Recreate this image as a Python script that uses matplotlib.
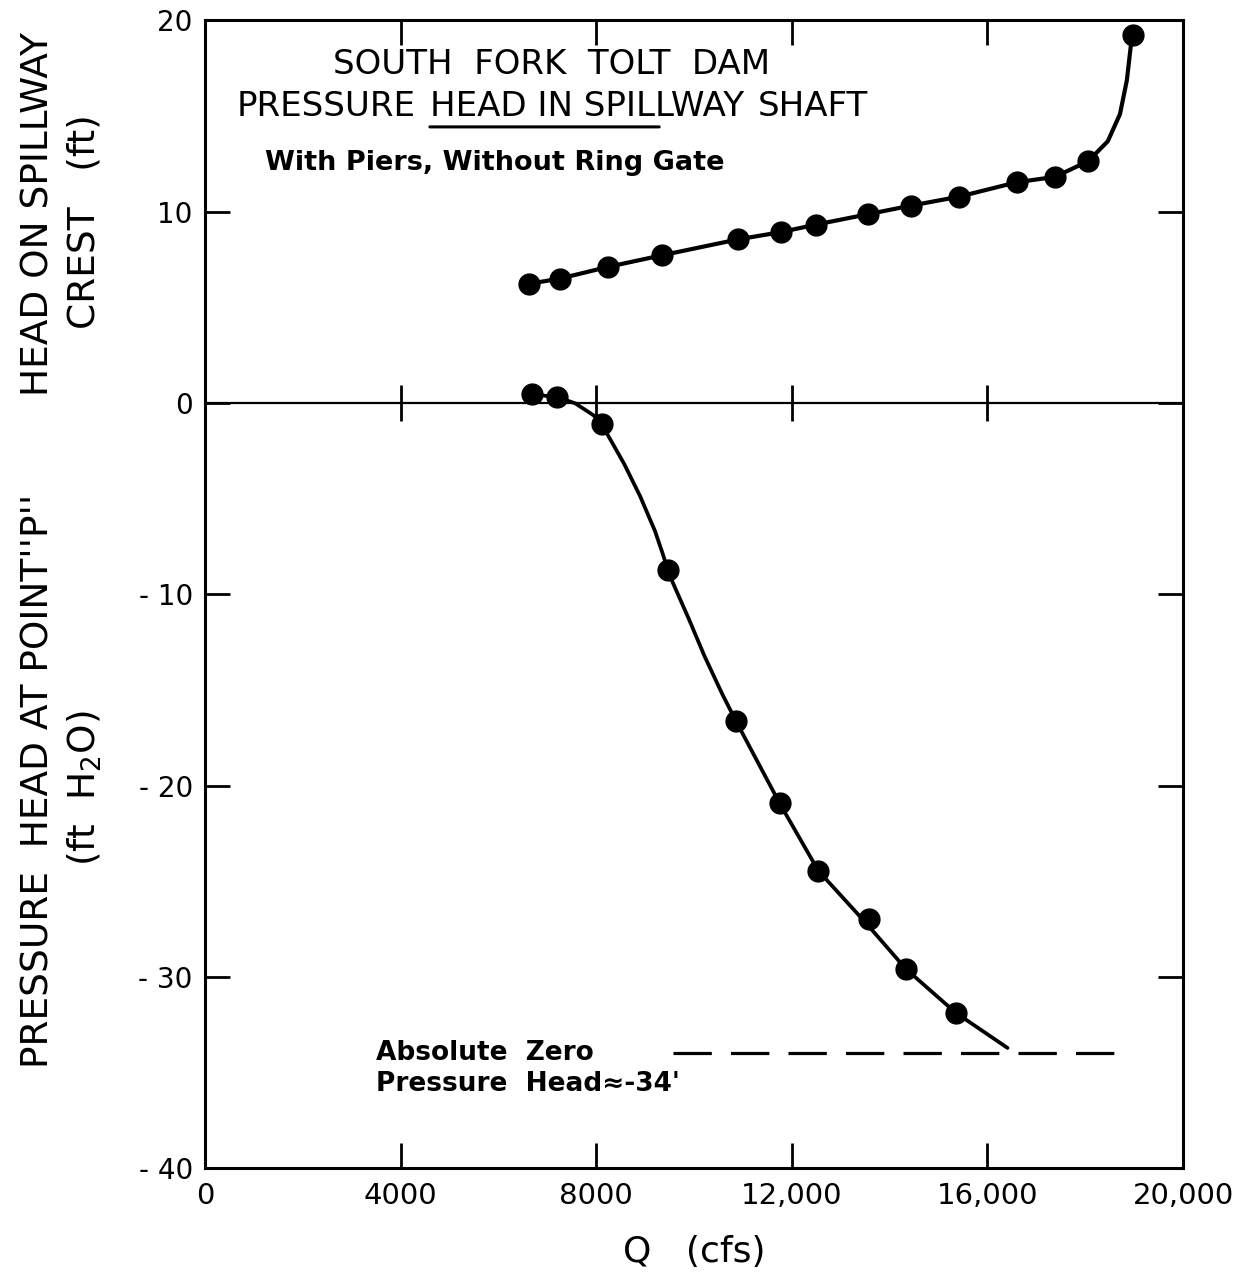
import matplotlib
matplotlib.use('Agg')
import matplotlib.pyplot as plt

# flow rates (cfs) and head on spillway crest (ft)
q_head = [6620, 7250, 8230, 9340, 10890, 11770, 12500, 13560, 14440, 15410, 16600, 17380, 18060, 18980]
head = [6.23, 6.50, 7.11, 7.72, 8.55, 8.93, 9.33, 9.87, 10.32, 10.78, 11.54, 11.82, 12.64, 19.25]

# hand drawn curve through the head points
head_curve_q = [6620, 7250, 8230, 9340, 10890, 11770, 12500, 13560, 14440, 15410, 16600, 17380,
                18060, 18460, 18710, 18850, 18930, 18980]
head_curve = [6.23, 6.50, 7.11, 7.72, 8.55, 8.93, 9.33, 9.87, 10.32, 10.78, 11.54, 11.82,
              12.64, 13.68, 15.10, 16.86, 18.63, 19.25]

# pressure head at point P (ft H2O)
q_p = [6690, 7200, 8110, 9460, 10850, 11750, 12540, 13570, 14330, 15350]
p_head = [0.45, 0.31, -1.08, -8.73, -16.6, -20.93, -24.45, -26.97, -29.58, -31.87]

# hand drawn curve through the pressure points
p_curve_q = [6690, 7200, 7570, 7940, 8110, 8240, 8570, 8900, 9200, 9360, 9460, 9560, 9890,
             10210, 10580, 10850, 11750, 12540, 13500, 14330, 15350, 16410]
p_curve = [0.45, 0.31, -0.02, -0.64, -1.08, -1.70, -3.19, -4.9, -6.7, -7.9, -8.73, -9.37,
           -11.28, -13.22, -15.24, -16.6, -20.93, -24.45, -27.14, -29.58, -31.87, -33.71]

abs_zero_q = [9570, 18700]
abs_zero = -34

x_ticks = [0, 4000, 8000, 12000, 16000, 20000]
x_labels = ['0', '4000', '8000', '12,000', '16,000', '20,000']
y_ticks = [-40, -30, -20, -10, 0, 10, 20]
y_labels = ['- 40', '- 30', '- 20', '- 10', '0', '10', '20']

plt.rcParams['font.family'] = ['DejaVu Sans']

fig = plt.figure(figsize=(12.44, 12.74), dpi=100)
ax = fig.add_axes([0.165, 0.083, 0.786, 0.901])

ax.plot(head_curve_q, head_curve, color='black', lw=3, solid_capstyle='round', solid_joinstyle='round')
ax.plot(q_head, head, 'o', color='black', ms=15)

ax.plot(p_curve_q, p_curve, color='black', lw=2.7, solid_capstyle='round', solid_joinstyle='round')
ax.plot(q_p, p_head, 'o', color='black', ms=15)

ax.plot(abs_zero_q, [abs_zero, abs_zero], color='black', lw=2.3, dashes=(12, 6))

# zero line with crossing ticks
ax.axhline(0, color='black', lw=1.6)
ax.plot(x_ticks[1:-1], [0] * 4, '|', color='black', ms=26, mew=2)

ax.set_xlim(0, 20000)
ax.set_ylim(-40, 20)
ax.set_xticks(x_ticks)
ax.set_xticklabels(x_labels)
ax.set_yticks(y_ticks)
ax.set_yticklabels(y_labels)
ax.tick_params(direction='in', length=18, width=2, top=True, right=True)
ax.tick_params(axis='x', pad=10, labelsize=21)
ax.tick_params(axis='y', pad=9, labelsize=20)
for s in ax.spines.values():
    s.set_linewidth(2.2)

ax.set_xlabel('Q   (cfs)', fontsize=26, labelpad=18)

# y axis labels, two lines each
fig.text(0.031, 0.832, 'HEAD ON SPILLWAY', rotation=90, fontsize=27, ha='center', va='center')
fig.text(0.068, 0.826, 'CREST   (ft)', rotation=90, fontsize=27, ha='center', va='center')
fig.text(0.031, 0.387, "PRESSURE  HEAD AT POINT''P''", rotation=90, fontsize=27, ha='center', va='center')
fig.text(0.068, 0.381, '(ft  H$_2$O)', rotation=90, fontsize=27, ha='center', va='center')

# title block
fig.text(0.443, 0.949, 'SOUTH  FORK  TOLT  DAM', fontsize=24.5, ha='center', va='center')
t1 = fig.text(0.1905, 0.909, 'PRESSURE', fontsize=24.5, ha='left', va='baseline')
t2 = ax.annotate('HEAD IN SPILLWAY', xy=(1, 0), xycoords=t1, xytext=(10, 0), textcoords='offset points',
                 fontsize=24.5, ha='left', va='bottom')
ax.annotate('SHAFT', xy=(1, 0), xycoords=t2, xytext=(10, 0), textcoords='offset points',
            fontsize=24.5, ha='left', va='bottom')
ax.annotate('', xy=(0, -0.12), xycoords=t2, xytext=(0.73, -0.12), textcoords=t2,
            arrowprops=dict(arrowstyle='-', lw=2.2, color='black', shrinkA=0, shrinkB=0))
fig.text(0.398, 0.872, 'With Piers, Without Ring Gate', fontsize=19.5, fontweight='bold', ha='center', va='center')

ax.text(3500, -34.0, 'Absolute  Zero', fontsize=19, fontweight='bold', ha='left', va='center')
ax.text(3500, -35.6, "Pressure  Head\u2248-34'", fontsize=19, fontweight='bold', ha='left', va='center')

fig.savefig('out.png', dpi=100, facecolor='white')
